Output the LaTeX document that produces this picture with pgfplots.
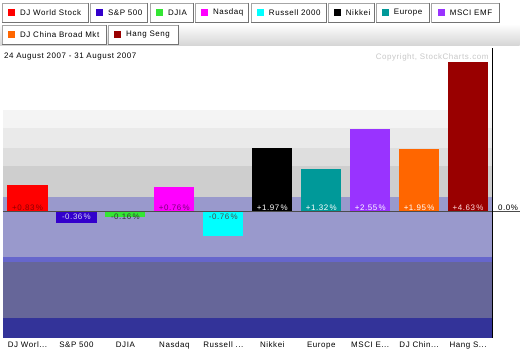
\documentclass[border=0pt]{standalone}
\usepackage{pgfplots}
\pgfplotsset{compat=1.18}
\usepackage{fontspec}
\setmainfont{Liberation Sans}[LetterSpace=7]
\definecolor{cWorld}{RGB}{255,0,0}
\definecolor{cSP}{RGB}{51,0,204}
\definecolor{cDJIA}{RGB}{51,230,51}
\definecolor{cNasdaq}{RGB}{255,0,255}
\definecolor{cRussell}{RGB}{0,255,255}
\definecolor{cNikkei}{RGB}{0,0,0}
\definecolor{cEurope}{RGB}{0,153,153}
\definecolor{cMSCI}{RGB}{153,51,255}
\definecolor{cChina}{RGB}{255,102,0}
\definecolor{cHang}{RGB}{153,0,0}
\definecolor{bandA}{RGB}{244,244,244}
\definecolor{bandB}{RGB}{234,234,234}
\definecolor{bandC}{RGB}{222,222,222}
\definecolor{bandD}{RGB}{206,206,206}
\definecolor{lav}{RGB}{153,153,204}
\definecolor{midblue}{RGB}{102,102,204}
\definecolor{slate}{RGB}{102,102,153}
\definecolor{darkblue}{RGB}{51,51,153}
\newcommand\dd{.{}.{}.}
\newcommand\btn[5]{%
  \draw[fill=white,draw=black!35] ({#1},{355-#3}) rectangle ({#2},{355-#3-19});
  \draw[black!55] ({#2},{355-#3}) -- ({#2},{355-#3-19}) -- ({#1},{355-#3-19});
  \fill[#4] ({#1+6},{355-#3-6}) rectangle ({#1+13},{355-#3-13});
  \node[anchor=west,inner sep=0pt] at ({#1+18},{355-#3-9.5}) {#5};}
\begin{document}
\begin{tikzpicture}[x=1bp,y=1bp,font=\fontsize{8}{9.5}\selectfont]
\fill[white] (0,0) rectangle (520,355);
\shade[top color=white,bottom color={rgb,255:red,212;green,212;blue,212}] (0,331) rectangle (520,309);
\btn{2}{88}{3}{cWorld}{DJ World Stock}
\btn{90}{147}{3}{cSP}{S\&P 500}
\btn{150}{193}{3}{cDJIA}{DJIA}
\btn{195}{248}{3}{cNasdaq}{Nasdaq}
\btn{251}{326}{3}{cRussell}{Russell 2000}
\btn{328}{374}{3}{cNikkei}{Nikkei}
\btn{376}{430}{3}{cEurope}{Europe}
\btn{432}{500}{3}{cMSCI}{MSCI EMF}
\btn{2}{106}{25}{cChina}{DJ China Broad Mkt}
\btn{108}{178}{25}{cHang}{Hang Seng}
% background bands (pixel rows of the plot area)
\fill[bandA] (3,245) rectangle (493,227);
\fill[bandB] (3,227) rectangle (493,207);
\fill[bandC] (3,207) rectangle (493,189);
\fill[bandD] (3,189) rectangle (493,158);
\fill[lav] (3,158) rectangle (493,98);
\fill[midblue] (3,98) rectangle (493,93);
\fill[slate] (3,93) rectangle (493,37);
\fill[darkblue] (3,37) rectangle (493,17);
\node[anchor=west,inner sep=0pt] at (4,298) {24 August 2007 - 31 August 2007};
\node[anchor=east,inner sep=0pt,text={rgb,255:red,200;green,200;blue,200}] at (489,298) {Copyright, StockCharts.com};
\begin{axis}[at={(3bp,17bp)},anchor=south west,width=490bp,height=288bp,scale only axis,
  xmin=-0.5,xmax=9.5,ymin=-3.89,ymax=5.0,
  axis line style={draw=none},ytick=\empty,
  xtick={0,1,2,3,4,5,6,7,8,9},
  xticklabels={{DJ Worl\dd},{S\&P 500},{DJIA},{Nasdaq},{Russell \dd},{Nikkei},{Europe},{MSCI E\dd},{DJ Chin\dd},{Hang S\dd}},
  major tick length=0pt,
  xticklabel style={font=\fontsize{8}{9.5}\selectfont,inner sep=0pt,yshift=-4bp},
  ybar,bar width=0.82,clip=false]
\addplot[fill=cWorld,draw=none,bar shift=0pt] coordinates {(0,0.83)};
\addplot[fill=cSP,draw=none,bar shift=0pt] coordinates {(1,-0.36)};
\addplot[fill=cDJIA,draw=none,bar shift=0pt] coordinates {(2,-0.16)};
\addplot[fill=cNasdaq,draw=none,bar shift=0pt] coordinates {(3,0.76)};
\addplot[fill=cRussell,draw=none,bar shift=0pt] coordinates {(4,-0.76)};
\addplot[fill=cNikkei,draw=none,bar shift=0pt] coordinates {(5,1.97)};
\addplot[fill=cEurope,draw=none,bar shift=0pt] coordinates {(6,1.32)};
\addplot[fill=cMSCI,draw=none,bar shift=0pt] coordinates {(7,2.55)};
\addplot[fill=cChina,draw=none,bar shift=0pt] coordinates {(8,1.95)};
\addplot[fill=cHang,draw=none,bar shift=0pt] coordinates {(9,4.63)};
\node[anchor=south,inner sep=1.2pt,text={rgb,255:red,140;green,0;blue,0}] at (axis cs:0,0) {+0.83\,\%};
\node[anchor=north,inner sep=1.5pt,text={rgb,255:red,215;green,215;blue,245}] at (axis cs:1,0) {-0.36\,\%};
\node[anchor=north,inner sep=1.5pt,text=black!80] at (axis cs:2,0) {-0.16\,\%};
\node[anchor=south,inner sep=1.2pt,text={rgb,255:red,120;green,0;blue,120}] at (axis cs:3,0) {+0.76\,\%};
\node[anchor=north,inner sep=1.5pt,text=black!70] at (axis cs:4,0) {-0.76\,\%};
\node[anchor=south,inner sep=1.2pt,text=white] at (axis cs:5,0) {+1.97\,\%};
\node[anchor=south,inner sep=1.2pt,text=white] at (axis cs:6,0) {+1.32\,\%};
\node[anchor=south,inner sep=1.2pt,text=white] at (axis cs:7,0) {+2.55\,\%};
\node[anchor=south,inner sep=1.2pt,text=white] at (axis cs:8,0) {+1.95\,\%};
\node[anchor=south,inner sep=1.2pt,text={rgb,255:red,255;green,220;blue,220}] at (axis cs:9,0) {+4.63\,\%};
\draw[black!70,line width=0.8bp] (axis cs:-0.5,0) -- ([xshift=27bp]axis cs:9.5,0) node[above left,inner sep=1.2pt,text=black] {0.0\%};
\draw[black,line width=1bp] (axis cs:9.5,-3.89) -- (axis cs:9.5,5.05);
\end{axis}
\end{tikzpicture}
\end{document}
